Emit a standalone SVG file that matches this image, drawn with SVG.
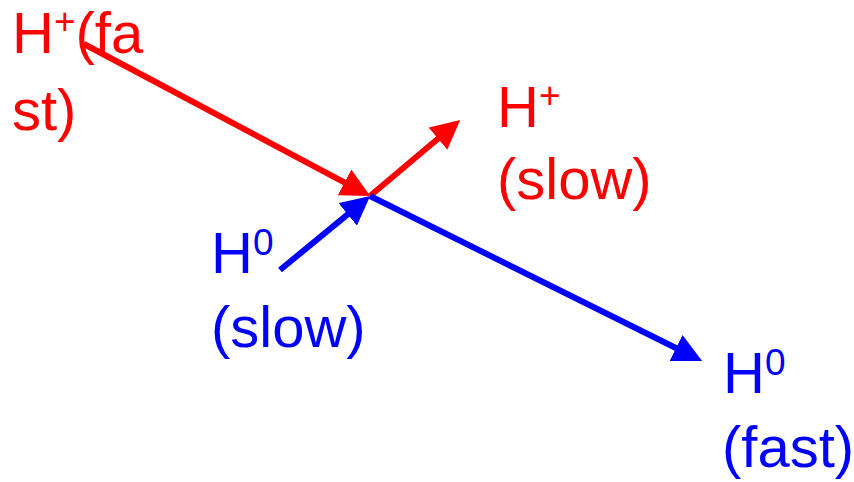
<svg xmlns="http://www.w3.org/2000/svg" width="854" height="482" viewBox="0 0 854 482">
<defs>
<style>
text{font-family:"Liberation Sans",Arial,sans-serif;font-size:58px}
.r{fill:#FF0000}.b{fill:#0000FF}
.sup{font-size:37px}
.lr{stroke:#FF0000;stroke-width:6;fill:none}
.lb{stroke:#0000FF;stroke-width:6;fill:none}
</style>
<marker id="ar" viewBox="0 0 10 10" markerWidth="4.85" markerHeight="4.85" refX="6.5" refY="5" orient="auto"><path d="M0,0 L10,5 L0,10 z" fill="#FF0000"/></marker>
<marker id="ab" viewBox="0 0 10 10" markerWidth="4.85" markerHeight="4.85" refX="6.5" refY="5" orient="auto"><path d="M0,0 L10,5 L0,10 z" fill="#0000FF"/></marker>
</defs>
<rect width="854" height="482" fill="#FFFFFF"/>
<g id="connectors">
<line class="lr" x1="84" y1="44" x2="361.2" y2="191.3" marker-end="url(#ar)"/>
<line class="lr" x1="370" y1="196" x2="452.4" y2="126.5" marker-end="url(#ar)"/>
<line class="lb" x1="280" y1="270" x2="362.3" y2="202.4" marker-end="url(#ab)"/>
<line class="lb" x1="370" y1="196" x2="693" y2="356.5" marker-end="url(#ab)"/>
</g>
<g id="hplus-fast">
<text class="r" x="12" y="53">H<tspan class="sup" dy="-19">+</tspan><tspan dy="19">(fa</tspan></text>
<text class="r" x="12" y="130">st)</text>
</g>
<g id="hplus-slow">
<text class="r" x="497" y="127">H<tspan class="sup" dy="-19">+</tspan></text>
<text class="r" x="497" y="199">(slow)</text>
</g>
<g id="h0-slow">
<text class="b" x="211" y="273">H<tspan class="sup" dy="-18">0</tspan></text>
<text class="b" x="211" y="347">(slow)</text>
</g>
<g id="h0-fast">
<text class="b" x="723" y="393">H<tspan class="sup" dy="-18">0</tspan></text>
<text class="b" x="722" y="467">(fast)</text>
</g>
</svg>
